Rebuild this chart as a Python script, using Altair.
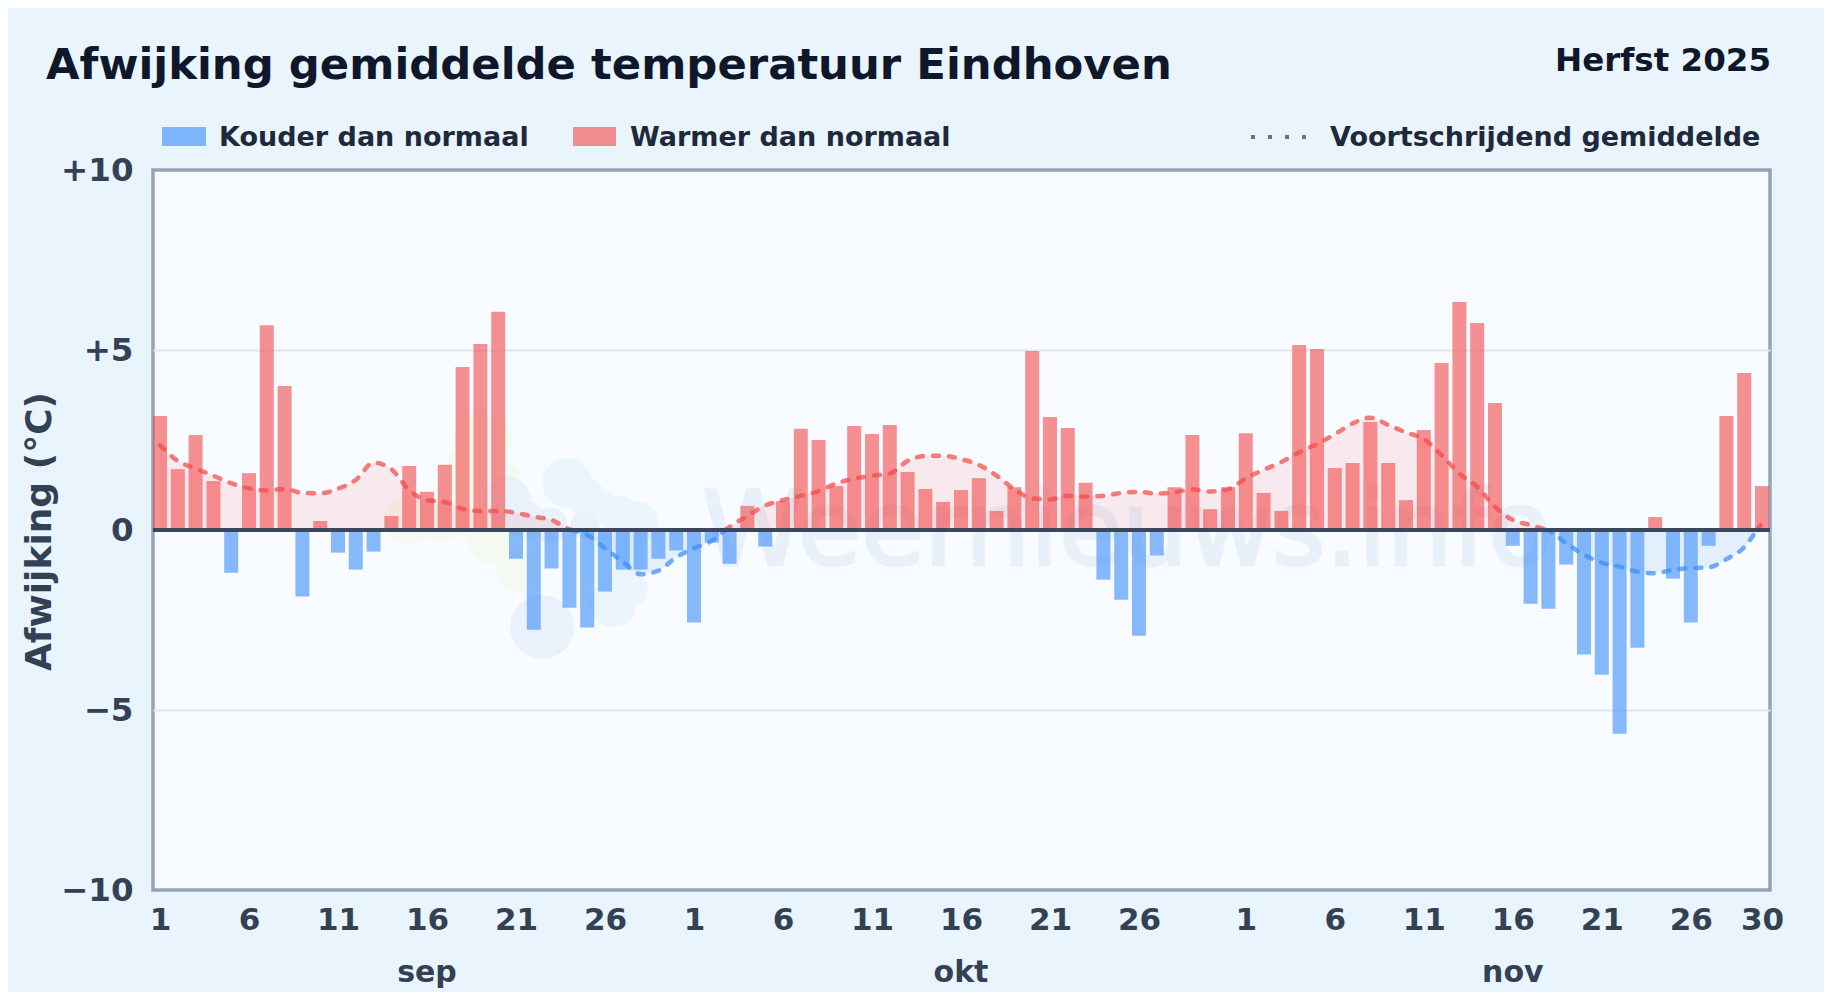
import altair as alt
import pandas as pd

# ---- data ----------------------------------------------------------------
anomaly = [
    3.17, 1.69, 2.64, 1.36, -1.19, 1.58, 5.69, 4.00, -1.85, 0.25,
    -0.63, -1.10, -0.60, 0.39, 1.78, 1.06, 1.81, 4.53, 5.17, 6.06,
    -0.80, -2.77, -1.07, -2.16, -2.71, -1.71, -1.10, -1.10, -0.80, -0.57,
    -2.57, -0.35, -0.94, 0.67, -0.46, 0.80, 2.81, 2.50, 1.22, 2.89,
    2.67, 2.92, 1.61, 1.14, 0.78, 1.11, 1.44, 0.53, 1.19, 4.97,
    3.14, 2.83, 1.31, -1.38, -1.94, -2.94, -0.71, 1.19, 2.64, 0.58,
    1.19, 2.69, 1.03, 0.53, 5.14, 5.03, 1.72, 1.86, 3.00, 1.86,
    0.83, 2.78, 4.64, 6.33, 5.75, 3.53, -0.44, -2.05, -2.19, -0.96,
    -3.46, -4.02, -5.66, -3.27, 0.36, -1.35, -2.57, -0.44, 3.17, 4.36,
    1.22,
]
moving_avg = [
    2.36, 1.92, 1.71, 1.51, 1.30, 1.16, 1.10, 1.14, 1.03, 1.02,
    1.15, 1.39, 1.87, 1.69, 1.11, 0.83, 0.78, 0.59, 0.53, 0.53,
    0.48, 0.37, 0.28, 0.02, -0.14, -0.51, -0.88, -1.23, -1.13, -0.76,
    -0.51, -0.30, 0.09, 0.39, 0.68, 0.83, 0.95, 1.08, 1.30, 1.42,
    1.51, 1.57, 1.92, 2.06, 2.06, 1.97, 1.81, 1.51, 1.13, 0.88,
    0.85, 0.95, 0.93, 0.95, 1.03, 1.06, 1.01, 1.05, 1.13, 1.07,
    1.13, 1.44, 1.67, 1.89, 2.16, 2.39, 2.66, 2.96, 3.12, 2.92,
    2.71, 2.53, 2.08, 1.57, 1.20, 0.65, 0.28, 0.14, -0.02, -0.37,
    -0.69, -0.91, -1.02, -1.16, -1.20, -1.11, -1.06, -1.04, -0.81, -0.48,
    0.19,
]
tick_index = [0, 5, 10, 15, 20, 25, 30, 35, 40, 45, 50, 55, 61, 66, 71, 76, 81, 86, 90]
tick_label = ["1", "6", "11", "16", "21", "26", "1", "6", "11", "16", "21", "26",
              "1", "6", "11", "16", "21", "26", "30"]
month_index = [15, 45, 76]
month_label = ["sep", "okt", "nov"]
y_ticks = [-10, -5, 0, 5, 10]

TITLE = "Afwijking gemiddelde temperatuur Eindhoven"
SUBTITLE = "Herfst 2025"
FONT = "DejaVu Sans"
RED = "#f44a4a"
BLUE = "#3b8ef8"
PAGE = "#eaf4fd"

W, H = 1617, 720
x_scale = alt.Scale(domain=[-0.393, 90.45], nice=False, zero=False, padding=0)
y_scale = alt.Scale(domain=[-10, 10], nice=False)

bars_df = pd.DataFrame({"i": range(len(anomaly)), "v": anomaly})
bars_df["sign"] = ["warm" if v >= 0 else "cold" for v in anomaly]
bars_df["zero"] = 0

# split the moving average where it crosses zero, so each part keeps its colour
rows, seg = [], 0
for i, v in enumerate(moving_avg):
    if i > 0:
        p = moving_avg[i - 1]
        if (p >= 0) != (v >= 0):
            cross = i - 1 + p / (p - v)
            rows.append({"i": cross, "v": 0, "seg": seg, "sign": "warm" if p >= 0 else "cold"})
            seg += 1
            rows.append({"i": cross, "v": 0, "seg": seg, "sign": "warm" if v >= 0 else "cold"})
    rows.append({"i": i, "v": v, "seg": seg, "sign": "warm" if v >= 0 else "cold"})
ma_df = pd.DataFrame(rows)
ma_df["zero"] = 0

X = alt.X("i:Q", scale=x_scale, title=None,
          axis=alt.Axis(values=tick_index,
                        labelExpr="{" + ",".join(f"{a}:'{b}'" for a, b in zip(tick_index, tick_label)) + "}[datum.value]",
                        labelFontSize=31, labelFont=FONT, labelFontWeight="bold", labelColor="#334155",
                        labelPadding=15, ticks=False, domain=False, grid=False, labelOverlap=False,
                        labelBaseline="top"))
Y = alt.Y("v:Q", scale=y_scale,
          axis=alt.Axis(values=y_ticks, title="Afwijking (°C)",
                        labelExpr="datum.value>0?'+'+datum.value:(datum.value<0?'−'+abs(datum.value):'0')",
                        labelFontSize=32.5, labelFont=FONT, labelFontWeight="bold", labelColor="#334155",
                        labelPadding=20, ticks=False, domain=False, grid=True, gridColor="#dfe6ec", gridWidth=2,
                        gridOpacity={"condition": {"test": "abs(datum.value)==10", "value": 0}, "value": 1},
                        titleFont=FONT, titleFontSize=36, titleFontWeight="bold", titleColor="#334155",
                        titleAngle=270, titleAlign="center", titleBaseline="middle", titleX=-114, titleY=361,
                        labelOverlap=False))
sign_color = alt.Color("sign:N", scale=alt.Scale(domain=["warm", "cold"], range=[RED, BLUE]), legend=None)
line_color = alt.Color("sign:N", scale=alt.Scale(domain=["warm", "cold"], range=["#f87878", "#64a5f5"]), legend=None)


def blob(color, px, py, r):
    d = pd.DataFrame({"i": [(px - 160) / 17.8], "v": [(530 - py) / 36]})
    return alt.Chart(d).mark_circle(color=color, opacity=1, size=3.14159 * r * r).encode(
        x=alt.X("i:Q", scale=x_scale), y=alt.Y("v:Q", scale=y_scale))


axes_layer = alt.Chart(bars_df).mark_point(opacity=0).encode(x=X, y=Y)
blobs = [blob("#f4f9f1", *b) for b in [(483, 440, 33), (470, 470, 28), (407, 520, 27), (440, 520, 26), (460, 510, 28),
                                       (490, 540, 26), (517, 570, 25), (500, 480, 24)]]
blobs += [blob("#eaf5fe", *b) for b in [(567, 483, 28), (585, 497, 22), (600, 507, 20), (620, 515, 22), (637, 523, 24),
                                         (613, 603, 27), (607, 560, 30), (625, 560, 22), (630, 590, 20)]]
blobs += [blob("#e9f1fa", *b) for b in [(542, 627, 36), (507, 500, 27), (525, 520, 22), (550, 525, 20), (585, 525, 16)]]

wm = alt.Chart(pd.DataFrame({"t": ["Weernieuws.info"]})).mark_text(
    font=FONT, fontSize=103, color="#e8f0fa", stroke="#e8f0fa", strokeWidth=3, align="left", baseline="alphabetic"
).encode(text="t:N", x=alt.value(549), y=alt.value(395))

area = alt.Chart(ma_df).mark_area(opacity=0.1, interpolate="monotone").encode(
    x=alt.X("i:Q", scale=x_scale), y=alt.Y("v:Q", scale=y_scale), y2="zero:Q", color=sign_color, detail="seg:N")
bars = alt.Chart(bars_df).mark_bar(width=14, opacity=0.6, orient="vertical").encode(
    x=alt.X("i:Q", scale=x_scale), y=alt.Y("v:Q", scale=y_scale), y2="zero:Q", color=sign_color)
line = alt.Chart(ma_df).mark_line(strokeWidth=4.5, strokeDash=[6, 10], interpolate="monotone", opacity=0.72,
                                  strokeCap="round").encode(
    x=alt.X("i:Q", scale=x_scale), y=alt.Y("v:Q", scale=y_scale), color=line_color, detail="seg:N")
zero = alt.Chart(pd.DataFrame({"v": [0]})).mark_rule(color="#3c475c", strokeWidth=4).encode(
    y=alt.Y("v:Q", scale=y_scale))

months = alt.Chart(pd.DataFrame({"i": month_index, "t": month_label})).mark_text(
    font=FONT, fontSize=30, fontWeight="bold", color="#334155", align="center", baseline="alphabetic"
).encode(x=alt.X("i:Q", scale=x_scale), y=alt.value(812), text="t:N")


def txt(s, x, y, size, color, align="left"):
    return alt.Chart(pd.DataFrame({"t": [s]})).mark_text(
        font=FONT, fontSize=size, fontWeight="bold", color=color, align=align, baseline="alphabetic"
    ).encode(text="t:N", x=alt.value(x), y=alt.value(y))


def swatch(color, x0, x1):
    return alt.Chart(pd.DataFrame({"a": [1]})).mark_rect(color=color, opacity=0.62).encode(
        x=alt.value(x0), x2=alt.value(x1), y=alt.value(-43), y2=alt.value(-24))


title = txt(TITLE, -107, -91, 43.35, "#0f172a")
sub = txt(SUBTITLE, 1618, -99, 32.5, "#0f172a", "right")
leg = [
    swatch(BLUE, 9, 53), txt("Kouder dan normaal", 66, -24, 27, "#1e293b"),
    swatch(RED, 420, 463), txt("Warmer dan normaal", 477, -24, 27, "#1e293b"),
    alt.Chart(pd.DataFrame({"a": [1]})).mark_rule(color="#64748b", strokeWidth=4, strokeDash=[4, 13]).encode(
        x=alt.value(1098), x2=alt.value(1155), y=alt.value(-33)),
    txt("Voortschrijdend gemiddelde", 1177, -24, 27, "#1e293b"),
]

chart = alt.layer(
    axes_layer, *blobs, wm, area, bars, line, zero, months, title, sub, *leg
).properties(
    width=W, height=H,
    background=PAGE,
    padding={"left": 145, "top": 162, "right": 54, "bottom": 102},
    autosize=alt.AutoSizeParams(type="none"),
).configure_view(fill="#f8fbff", stroke="#94a3b8", strokeWidth=3.5).configure_axis(zindex=0)

chart.save("out.html", embed_options={"renderer": "svg", "actions": False})
